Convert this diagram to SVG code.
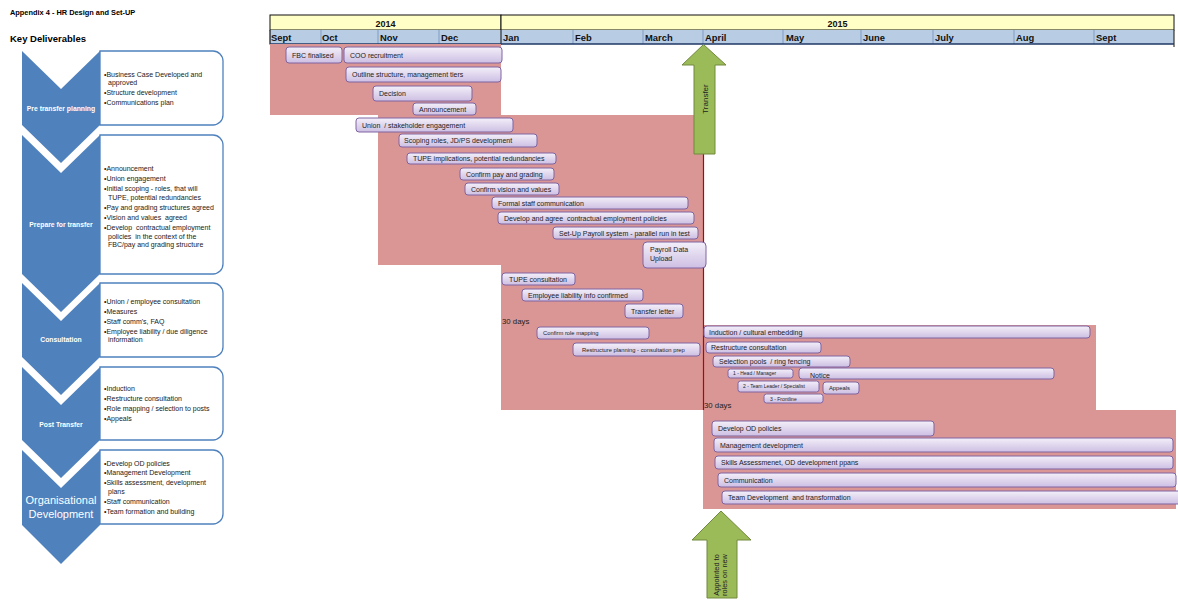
<svg xmlns="http://www.w3.org/2000/svg" width="1178" height="600" viewBox="0 0 1178 600">
<defs>
<linearGradient id="barg" x1="0" y1="0" x2="0" y2="1">
<stop offset="0" stop-color="#F3EFF9"/>
<stop offset="1" stop-color="#CDBFE3"/>
</linearGradient>
<style>
text{font-family:"Liberation Sans",Arial,sans-serif;white-space:pre}
.title{font-size:7.4px;font-weight:bold;fill:#000}
.kd{font-size:9.5px;font-weight:bold;fill:#000}
.chev{fill:#4F81BD}
.box{fill:#fff;stroke:#4F81BD;stroke-width:1.3}
.cl{font-size:6.8px;font-weight:bold;fill:#fff;text-anchor:middle}
.cl2{font-size:11px;fill:#fff;text-anchor:middle}
.bt{font-size:7px;fill:#1a1a1a}
.yr{fill:#FFFFC6;stroke:#111;stroke-width:1}
.mo{fill:#B8CCE4}
.yt{font-size:9px;font-weight:bold;fill:#111;text-anchor:middle}
.mt{font-size:9.4px;font-weight:bold;fill:#111}
.mdiv{stroke:#7F9DC7;stroke-width:1}
.pink{fill:#D99694}
.bar{fill:url(#barg);stroke:#8064A2;stroke-width:1}
.t{font-size:7px;fill:#222}
.ts{font-size:5.8px;fill:#222}
.tt{font-size:5px;fill:#222}
.days{font-size:7.8px;fill:#222}
.arrow{fill:#9BBB59;stroke:#71893F;stroke-width:1}
.at{font-size:8px;fill:#222;text-anchor:middle}
</style>
</defs>
<rect width="1178" height="600" fill="#fff"/>

<text class="title" x="10" y="15">Appendix 4 - HR Design and Set-UP</text>
<text class="kd" x="10" y="42">Key Deliverables</text>

<!-- Key deliverables -->
<g id="kd-pre-transfer">
<path class="box" d="M100,51 H213 A10,10 0 0 1 223,61 V115 A10,10 0 0 1 213,125 H100 Z"/>
<path class="chev" d="M22,51 L61,89 L100,51 L100,125 L61,163 L22,125 Z"/>
<text class="cl" x="61" y="110.5">Pre transfer planning</text>
<text class="bt" x="104" y="77">•Business Case Developed and</text>
<text class="bt" x="108" y="85">approved</text>
<text class="bt" x="104" y="94.5">•Structure development</text>
<text class="bt" x="104" y="104.5">•Communications plan</text>
</g>
<g id="kd-prepare">
<path class="box" d="M100,135 H213 A10,10 0 0 1 223,145 V264 A10,10 0 0 1 213,274 H100 Z"/>
<path class="chev" d="M22,135 L61,173 L100,135 L100,274 L61,312 L22,274 Z"/>
<text class="cl" x="61" y="226.5">Prepare for transfer</text>
<text class="bt" x="104" y="170.5">•Announcement</text>
<text class="bt" x="104" y="180.5">•Union engagement</text>
<text class="bt" x="104" y="190.5">•Initial scoping - roles, that will</text>
<text class="bt" x="108" y="199.5">TUPE, potential redundancies</text>
<text class="bt" x="104" y="209.5">•Pay and grading structures agreed</text>
<text class="bt" x="104" y="219.5">•Vision and values  agreed</text>
<text class="bt" x="104" y="229.5">•Develop  contractual employment</text>
<text class="bt" x="108" y="238.5">policies  in the context of the</text>
<text class="bt" x="108" y="246.5">FBC/pay and grading structure</text>
</g>
<g id="kd-consultation">
<path class="box" d="M100,283 H213 A10,10 0 0 1 223,293 V347 A10,10 0 0 1 213,357 H100 Z"/>
<path class="chev" d="M22,283 L61,321 L100,283 L100,357 L61,395 L22,357 Z"/>
<text class="cl" x="61" y="341.5">Consultation</text>
<text class="bt" x="104" y="303.5">•Union / employee consultation</text>
<text class="bt" x="104" y="313.5">•Measures</text>
<text class="bt" x="104" y="323.5">•Staff comm's, FAQ</text>
<text class="bt" x="104" y="333.5">•Employee liability / due diligence</text>
<text class="bt" x="108" y="341.5">information</text>
</g>
<g id="kd-post-transfer">
<path class="box" d="M100,367 H213 A10,10 0 0 1 223,377 V430 A10,10 0 0 1 213,440 H100 Z"/>
<path class="chev" d="M22,367 L61,405 L100,367 L100,440 L61,478 L22,440 Z"/>
<text class="cl" x="61" y="426.5">Post Transfer</text>
<text class="bt" x="104" y="390.5">•Induction</text>
<text class="bt" x="104" y="400.5">•Restructure consultation</text>
<text class="bt" x="104" y="410.5">•Role mapping / selection to posts</text>
<text class="bt" x="104" y="420.5">•Appeals</text>
</g>
<g id="kd-od">
<path class="box" d="M100,450 H213 A10,10 0 0 1 223,460 V514 A10,10 0 0 1 213,524 H100 Z"/>
<path class="chev" d="M22,450 L61,488 L100,450 L100,525 L61,564 L22,525 Z"/>
<text class="cl2" x="61" y="504">Organisational</text>
<text class="cl2" x="61" y="518">Development</text>
<text class="bt" x="104" y="465.5">•Develop OD policies</text>
<text class="bt" x="104" y="474.5">•Management Development</text>
<text class="bt" x="104" y="484.5">•Skills assessment, development</text>
<text class="bt" x="108" y="493.5">plans</text>
<text class="bt" x="104" y="503.5">•Staff communication</text>
<text class="bt" x="104" y="513.5">•Team formation and building</text>
</g>

<!-- Timeline header -->
<g id="header">
<rect class="yr" x="270" y="15" width="231" height="15"/>
<rect class="yr" x="501" y="15" width="673" height="15"/>
<rect class="mo" x="270" y="30" width="904" height="14"/>
<g class="mdiv">
<line x1="321" y1="30" x2="321" y2="44"/>
<line x1="378" y1="30" x2="378" y2="44"/>
<line x1="439" y1="30" x2="439" y2="44"/>
<line x1="573" y1="30" x2="573" y2="44"/>
<line x1="643" y1="30" x2="643" y2="44"/>
<line x1="703" y1="30" x2="703" y2="44"/>
<line x1="783" y1="30" x2="783" y2="44"/>
<line x1="861" y1="30" x2="861" y2="44"/>
<line x1="933" y1="30" x2="933" y2="44"/>
<line x1="1014" y1="30" x2="1014" y2="44"/>
<line x1="1094" y1="30" x2="1094" y2="44"/>
</g>
<line x1="270" y1="30" x2="270" y2="44.5" stroke="#111" stroke-width="1.2"/>
<line x1="501" y1="30" x2="501" y2="44.5" stroke="#111" stroke-width="1"/>
<line x1="1174" y1="30" x2="1174" y2="47" stroke="#111" stroke-width="1"/>
<line x1="270" y1="44" x2="1174" y2="44" stroke="#1F3864" stroke-width="1.6"/>
<text class="yt" x="385.5" y="26.5">2014</text>
<text class="yt" x="837.5" y="26.5">2015</text>
<text class="mt" x="271" y="41">Sept</text>
<text class="mt" x="322" y="41">Oct</text>
<text class="mt" x="380" y="41">Nov</text>
<text class="mt" x="441" y="41">Dec</text>
<text class="mt" x="503" y="41">Jan</text>
<text class="mt" x="575" y="41">Feb</text>
<text class="mt" x="645" y="41">March</text>
<text class="mt" x="705" y="41">April</text>
<text class="mt" x="786" y="41">May</text>
<text class="mt" x="863" y="41">June</text>
<text class="mt" x="935" y="41">July</text>
<text class="mt" x="1016" y="41">Aug</text>
<text class="mt" x="1096" y="41">Sept</text>
</g>

<!-- Phase background areas -->
<g id="phases">
<rect class="pink" x="270" y="44" width="231" height="71"/>
<rect class="pink" x="378" y="115" width="325" height="150"/>
<rect class="pink" x="501" y="265" width="202" height="145"/>
<rect class="pink" x="703" y="325" width="393" height="85"/>
<rect class="pink" x="703" y="410" width="473" height="99"/>
</g>
<g id="milestone-line">
<line x1="703.5" y1="115" x2="703.5" y2="410" stroke="#C00000" stroke-width="1.2"/>
</g>

<!-- Activity bars -->
<g id="bar-fbc"><rect class="bar" x="286" y="47" width="56" height="16" rx="3"/><text class="t" x="292" y="57.5">FBC finalised</text></g>
<g id="bar-coo"><rect class="bar" x="344" y="47" width="158" height="16" rx="3"/><text class="t" x="350" y="57.5">COO recruitment</text></g>
<g id="bar-outline"><rect class="bar" x="346" y="67" width="155" height="15" rx="3"/><text class="t" x="352" y="77">Outline structure, management tiers</text></g>
<g id="bar-decision"><rect class="bar" x="373" y="86" width="99" height="15" rx="3"/><text class="t" x="379" y="96">Decision</text></g>
<g id="bar-announcement"><rect class="bar" x="413" y="103" width="63" height="12" rx="3"/><text class="t" x="419" y="111.5">Announcement</text></g>
<g id="bar-union"><rect class="bar" x="356" y="118" width="157" height="14" rx="3"/><text class="t" x="362" y="127.5">Union  / stakeholder engagement</text></g>
<g id="bar-scoping"><rect class="bar" x="399" y="134" width="138" height="13" rx="3"/><text class="t" x="404" y="143">Scoping roles, JD/PS development</text></g>
<g id="bar-tupe-impl"><rect class="bar" x="407" y="153" width="149" height="11" rx="3"/><text class="t" x="413" y="161">TUPE implications, potential redundancies</text></g>
<g id="bar-pay"><rect class="bar" x="460" y="168" width="94" height="12" rx="3"/><text class="t" x="466" y="176.5">Confirm pay and grading</text></g>
<g id="bar-vision"><rect class="bar" x="465" y="183" width="94" height="12" rx="3"/><text class="t" x="471" y="191.5">Confirm vision and values</text></g>
<g id="bar-formal"><rect class="bar" x="492" y="197" width="196" height="12" rx="3"/><text class="t" x="498" y="205.5">Formal staff communication</text></g>
<g id="bar-develop-policies"><rect class="bar" x="498" y="212" width="196" height="12" rx="3"/><text class="t" x="504" y="220.5">Develop and agree  contractual employment policies</text></g>
<g id="bar-payroll-setup"><rect class="bar" x="553" y="227" width="145" height="12" rx="3"/><text class="t" x="559" y="235.5">Set-Up Payroll system - parallel run in test</text></g>
<g id="bar-payroll-upload"><rect class="bar" x="643" y="242" width="63" height="26" rx="4"/><text class="t" x="650" y="251.5">Payroll Data</text><text class="t" x="650" y="260.5">Upload</text></g>
<g id="bar-tupe-consult"><rect class="bar" x="502" y="273" width="73" height="12" rx="3"/><text class="t" x="509" y="281.5">TUPE consultation</text></g>
<g id="bar-liability"><rect class="bar" x="522" y="289" width="121" height="12" rx="3"/><text class="t" x="528" y="297.5">Employee liability info confirmed</text></g>
<g id="bar-transfer-letter"><rect class="bar" x="625" y="304" width="58" height="14" rx="3"/><text class="t" x="631" y="313.5">Transfer letter</text></g>
<text class="days" x="502" y="324">30 days</text>
<g id="bar-role-mapping"><rect class="bar" x="537" y="327" width="112" height="12" rx="3"/><text class="ts" x="543" y="335">Confirm role mapping</text></g>
<g id="bar-restructure-planning"><rect class="bar" x="573" y="343" width="127" height="13" rx="3"/><text class="ts" x="582" y="351.5">Restructure planning - consultation prep</text></g>
<g id="bar-induction"><rect class="bar" x="704" y="326" width="386" height="12" rx="3"/><text class="t" x="709" y="334.5">Induction / cultural embedding</text></g>
<g id="bar-restructure-consult"><rect class="bar" x="706" y="342" width="115" height="11" rx="3"/><text class="t" x="711" y="350">Restructure consultation</text></g>
<g id="bar-selection"><rect class="bar" x="713" y="356" width="137" height="11" rx="3"/><text class="t" x="719" y="364">Selection pools  / ring fencing</text></g>
<g id="bar-head"><rect class="bar" x="728" y="369" width="65" height="9" rx="2.5"/><text class="tt" x="733" y="375.3">1 - Head / Manager</text></g>
<g id="bar-notice"><rect class="bar" x="799" y="368" width="255" height="11" rx="3"/><text class="t" x="810" y="377.5">Notice</text></g>
<g id="bar-team-leader"><rect class="bar" x="738" y="381" width="81" height="11" rx="2.5"/><text class="tt" x="743" y="388">2 - Team Leader / Specialist</text></g>
<g id="bar-appeals"><rect class="bar" x="823" y="382" width="36" height="12" rx="3"/><text class="ts" x="829" y="390">Appeals</text></g>
<g id="bar-frontline"><rect class="bar" x="764" y="394" width="59" height="9" rx="2.5"/><text class="tt" x="770" y="400.6">3 - Frontline</text></g>
<text class="days" x="704" y="408">30 days</text>
<g id="bar-od-policies"><rect class="bar" x="712" y="421" width="222" height="15" rx="3"/><text class="t" x="718" y="431">Develop OD policies</text></g>
<g id="bar-mgmt-dev"><rect class="bar" x="714" y="438" width="459" height="14" rx="3"/><text class="t" x="720" y="447.5">Management development</text></g>
<g id="bar-skills"><rect class="bar" x="715" y="456" width="458" height="13" rx="3"/><text class="t" x="721" y="465">Skills Assessmenet, OD development ppans</text></g>
<g id="bar-communication"><rect class="bar" x="718" y="473" width="458" height="14" rx="3"/><text class="t" x="724" y="482.5">Communication</text></g>
<g id="bar-team-dev"><rect class="bar" x="722" y="491" width="460" height="13" rx="3"/><text class="t" x="728" y="500">Team Development  and transformation</text></g>

<!-- Milestone arrows -->
<g id="arrow-transfer">
<path class="arrow" d="M703.5,44.5 L726,65 L715,65 L715,154 L694,154 L694,65 L682,65 Z"/>
<text class="at" transform="translate(707.5,99) rotate(-90)">Transfer</text>
</g>
<g id="arrow-appointed">
<path class="arrow" d="M721,511 L751,540 L737,540 L737,598 L707,598 L707,540 L692,540 Z"/>
<text class="at" style="font-size:7.4px" transform="translate(718.5,575) rotate(-90)">Appointed to</text>
<text class="at" style="font-size:7.4px" transform="translate(727,575) rotate(-90)">roles on new</text>
</g>
<g id="connectors"></g>
</svg>
